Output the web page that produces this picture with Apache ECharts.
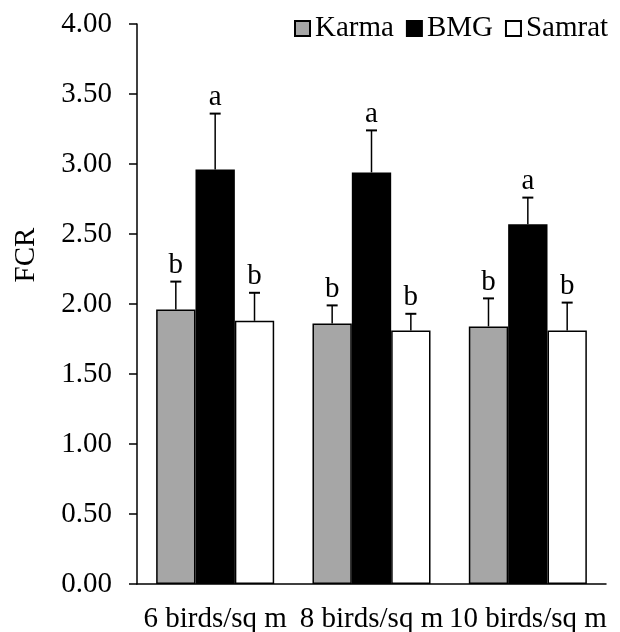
<!DOCTYPE html>
<html>
<head>
<meta charset="utf-8">
<script src="https://cdn.jsdelivr.net/npm/echarts@6/dist/echarts.min.js"></script>
<style>
  html, body { margin: 0; padding: 0; background: #fff; }
  #chart { width: 620px; height: 632px; }
</style>
</head>
<body>
<div id="chart"></div>
<script>
const categories = ['6 birds/sq m', '8 birds/sq m', '10 birds/sq m']
const seriesNames = ['Karma', 'BMG', 'Samrat']
const karma = [1.96, 1.86, 1.84]
const karmaErr = [0.20, 0.13, 0.20]
const bmg = [2.96, 2.94, 2.57]
const bmgErr = [0.40, 0.30, 0.19]
const samrat = [1.88, 1.81, 1.81]
const samratErr = [0.20, 0.12, 0.20]
const karmaLetters = ['b', 'b', 'b']
const bmgLetters = ['a', 'a', 'a']
const samratLetters = ['b', 'b', 'b']
const yTicks = [0, 0.5, 1, 1.5, 2, 2.5, 3, 3.5, 4]

const font = "'Liberation Serif', 'Times New Roman', serif"
const fs = 29
const colors = ['#a6a6a6', '#000000', '#ffffff']
const catGap = 0.245

const values = [karma, bmg, samrat]
const errors = [karmaErr, bmgErr, samratErr]
const letters = [karmaLetters, bmgLetters, samratLetters]

function barSeries(i) {
    return {
        name: seriesNames[i],
        type: 'bar',
        data: values[i],
        barGap: '0%',
        barCategoryGap: (catGap * 100) + '%',
        itemStyle: {color: colors[i], borderColor: '#000', borderWidth: 1.5}
    }
}

function errSeries(i) {
    return {
        type: 'custom',
        silent: true,
        z: 5,
        data: values[i].map((v, k) => [k, v, errors[i][k]]),
        renderItem: (params, api) => {
            let k = api.value(0)
            let v = api.value(1)
            let e = api.value(2)
            let band = api.size([1, 0])[0]
            let bw = band * (1 - catGap) / 3
            let base = api.coord([k, v])
            let top = api.coord([k, v + e])
            let x = base[0] + (i - 1) * bw
            let cap = 5.5
            return {
                type: 'group',
                children: [
                    {type: 'line', shape: {x1: x, y1: base[1], x2: x, y2: top[1]}, style: {stroke: '#000', lineWidth: 1.5}},
                    {type: 'line', shape: {x1: x - cap, y1: top[1], x2: x + cap, y2: top[1]}, style: {stroke: '#000', lineWidth: 2}},
                    {type: 'text', x: x, y: top[1] - 2, style: {
                        text: letters[i][k], font: fs + 'px ' + font, fill: '#000',
                        textAlign: 'center', textVerticalAlign: 'bottom'
                    }}
                ]
            }
        }
    }
}

let chart = echarts.init(document.getElementById('chart'))
chart.setOption({
    animation: false,
    backgroundColor: '#fff',
    grid: {left: 137, right: 14, top: 24, bottom: 48, outerBoundsMode: 'none', containLabel: false},
    legend: {
        data: seriesNames,
        left: 289,
        top: 9,
        icon: 'rect',
        itemWidth: 15,
        itemHeight: 15,
        itemGap: 12,
        textStyle: {fontFamily: font, fontSize: fs, color: '#000'}
    },
    xAxis: {
        type: 'category',
        data: categories,
        axisLine: {lineStyle: {color: '#000', width: 1.5}},
        axisTick: {length: 9, lineStyle: {color: '#000', width: 1.5}},
        axisLabel: {interval: 0, margin: 21, fontFamily: font, fontSize: fs, color: '#000'}
    },
    yAxis: {
        type: 'value',
        min: yTicks[0],
        max: yTicks[yTicks.length - 1],
        interval: 0.5,
        name: 'FCR',
        nameLocation: 'middle',
        nameGap: 96,
        nameRotate: 90,
        nameTextStyle: {fontFamily: font, fontSize: fs, color: '#000', padding: [0, 0, 0, 98]},
        splitLine: {show: false},
        axisLine: {show: true, lineStyle: {color: '#000', width: 1.5}},
        axisTick: {show: true, length: 8, lineStyle: {color: '#000', width: 1.5}},
        axisLabel: {margin: 25, fontFamily: font, fontSize: fs, color: '#000', formatter: v => v.toFixed(2)}
    },
    series: [barSeries(0), barSeries(1), barSeries(2), errSeries(0), errSeries(1), errSeries(2)]
})
</script>
</body>
</html>
